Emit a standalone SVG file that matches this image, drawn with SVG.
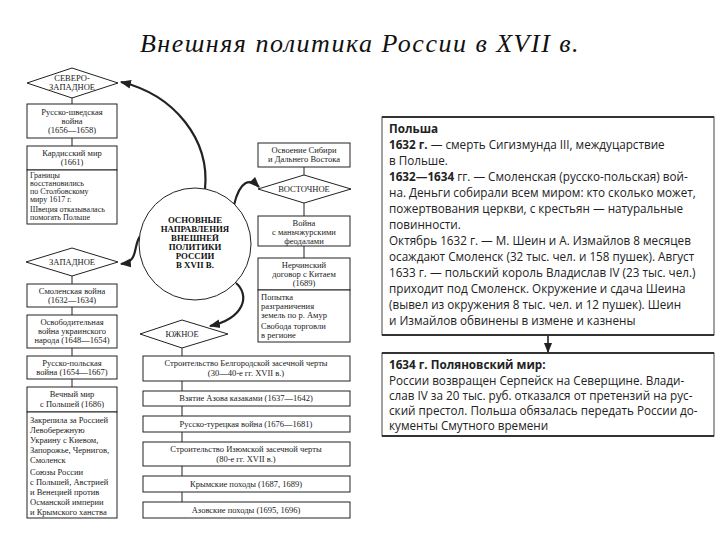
<svg xmlns="http://www.w3.org/2000/svg" width="720" height="540" viewBox="0 0 720 540">
<style>
.b{fill:#fff;stroke:#222;stroke-width:1}
.t{font-family:"Liberation Serif",serif;font-size:8.5px;fill:#222}
.s{font-size:8px}
.c{text-anchor:middle}
.ct{font-family:"Liberation Serif",serif;font-size:8.8px;font-weight:bold;fill:#111;text-anchor:middle}
.l{stroke:#222;stroke-width:1;fill:none}
.cur{stroke:#222;stroke-width:2.2;fill:none}
.r{font-family:"Open Sans",sans-serif;font-size:11.7px;fill:#222}
.rb{font-weight:bold}
.frame{fill:#fff;stroke:#444;stroke-width:1}
</style>
<defs>
<marker id="ah" viewBox="0 0 10 10" refX="9" refY="5" markerWidth="5" markerHeight="5" orient="auto"><path d="M0,1 L10,5 L0,9 z" fill="#222"/></marker>
<marker id="as" viewBox="0 0 10 10" refX="9" refY="5" markerWidth="7" markerHeight="7" orient="auto"><path d="M0,1 L10,5 L0,9 z" fill="#222"/></marker>
</defs>
<rect width="720" height="540" fill="#fff"/>
<text x="360" y="52" text-anchor="middle" font-family="Liberation Serif,serif" font-style="italic" font-size="26" letter-spacing="1.5" fill="#111">Внешняя политика России в XVII в.</text>

<g id="connectors">
<line class="l" x1="72" y1="97" x2="72" y2="104"/>
<line class="l" x1="72" y1="138" x2="72" y2="146"/>
<line class="l" x1="72" y1="276" x2="72" y2="284"/>
<line class="l" x1="72" y1="307" x2="72" y2="315"/>
<line class="l" x1="72" y1="348" x2="72" y2="356"/>
<line class="l" x1="72" y1="379" x2="72" y2="387"/>
<line class="l" x1="304" y1="167" x2="304" y2="175"/>
<line class="l" x1="304" y1="203" x2="304" y2="216"/>
<line class="l" x1="304" y1="246" x2="304" y2="258"/>
<line class="l" x1="182" y1="348" x2="182" y2="502"/>
<path class="cur" d="M205,189 C210,140 175,95 121,82" marker-end="url(#ah)"/>
<path class="cur" d="M141,235 C132,245 140,262 121,264" marker-end="url(#ah)"/>
<path class="cur" d="M234,205 C240,180 250,178 259,187" marker-end="url(#ah)"/>
<path class="cur" d="M236,283 C250,295 245,318 210,326" marker-end="url(#ah)"/>
<line x1="548" y1="336" x2="548" y2="352" stroke="#111" stroke-width="1.5" marker-end="url(#as)"/>
</g>

<g id="circle">
<circle cx="195" cy="244" r="56" class="b" stroke-width="1.5"/>
<text class="ct" x="195" y="223">ОСНОВНЫЕ</text>
<text class="ct" x="195" y="232">НАПРАВЛЕНИЯ</text>
<text class="ct" x="195" y="241">ВНЕШНЕЙ</text>
<text class="ct" x="195" y="250">ПОЛИТИКИ</text>
<text class="ct" x="195" y="259">РОССИИ</text>
<text class="ct" x="195" y="268">В XVII В.</text>
</g>

<g id="nw">
<polygon class="b" points="27,83 72,68 118,83 72,98"/>
<text class="t c" x="72" y="81">СЕВЕРО-</text>
<text class="t c" x="72" y="90">ЗАПАДНОЕ</text>
</g>
<g id="nw1">
<rect class="b" x="27" y="104" width="90" height="34"/>
<text class="t c" x="72" y="115">Русско-шведская</text>
<text class="t c" x="72" y="124">война</text>
<text class="t c" x="72" y="133">(1656—1658)</text>
</g>
<g id="nw2">
<rect class="b" x="27" y="146" width="90" height="24"/>
<text class="t c" x="72" y="156">Кардисский мир</text>
<text class="t c" x="72" y="165">(1661)</text>
<rect class="b" x="27" y="170" width="90" height="54"/>
<text class="t s" x="30" y="178">Границы</text>
<text class="t s" x="30" y="186">восстановились</text>
<text class="t s" x="30" y="194">по Столбовскому</text>
<text class="t s" x="30" y="202">миру 1617 г.</text>
<text class="t s" x="30" y="212">Швеция отказывалась</text>
<text class="t s" x="30" y="220">помогать Польше</text>
</g>

<g id="w">
<polygon class="b" points="26,262 72,248 118,262 72,276"/>
<text class="t c" x="72" y="265">ЗАПАДНОЕ</text>
</g>
<g id="w1">
<rect class="b" x="27" y="284" width="90" height="23"/>
<text class="t c" x="72" y="294">Смоленская война</text>
<text class="t c" x="72" y="303">(1632—1634)</text>
</g>
<g id="w2">
<rect class="b" x="27" y="315" width="90" height="33"/>
<text class="t c" x="72" y="325">Освободительная</text>
<text class="t c" x="72" y="334">война украинского</text>
<text class="t c" x="72" y="343">народа (1648—1654)</text>
</g>
<g id="w3">
<rect class="b" x="27" y="356" width="90" height="23"/>
<text class="t c" x="72" y="366">Русско-польская</text>
<text class="t c" x="72" y="375">война (1654—1667)</text>
</g>
<g id="w4">
<rect class="b" x="27" y="387" width="90" height="25"/>
<text class="t c" x="72" y="397">Вечный мир</text>
<text class="t c" x="72" y="407">с Польшей (1686)</text>
<rect class="b" x="27" y="412" width="90" height="106"/>
<text class="t" x="30" y="423">Закрепила за Россией</text>
<text class="t" x="30" y="433">Левобережную</text>
<text class="t" x="30" y="443">Украину с Киевом,</text>
<text class="t" x="30" y="453">Запорожье, Чернигов,</text>
<text class="t" x="30" y="463">Смоленск</text>
<text class="t" x="30" y="475">Союзы России</text>
<text class="t" x="30" y="485">с Польшей, Австрией</text>
<text class="t" x="30" y="495">и Венецией против</text>
<text class="t" x="30" y="505">Османской империи</text>
<text class="t" x="30" y="515">и Крымского ханства</text>
</g>

<g id="e0">
<rect class="b" x="258" y="143" width="92" height="24"/>
<text class="t c" x="304" y="153">Освоение Сибири</text>
<text class="t c" x="304" y="162">и Дальнего Востока</text>
</g>
<g id="e">
<polygon class="b" points="258,189 304,175 351,189 304,203"/>
<text class="t c" x="304" y="192">ВОСТОЧНОЕ</text>
</g>
<g id="e1">
<rect class="b" x="258" y="216" width="92" height="30"/>
<text class="t c" x="304" y="226">Война</text>
<text class="t c" x="304" y="235">с маньчжурскими</text>
<text class="t c" x="304" y="244">феодалами</text>
</g>
<g id="e2">
<rect class="b" x="258" y="258" width="92" height="32"/>
<text class="t c" x="304" y="268">Нерчинский</text>
<text class="t c" x="304" y="277">договор с Китаем</text>
<text class="t c" x="304" y="286">(1689)</text>
<rect class="b" x="258" y="290" width="92" height="52"/>
<text class="t" x="261" y="300">Попытка</text>
<text class="t" x="261" y="309">разграничения</text>
<text class="t" x="261" y="318">земель по р. Амур</text>
<text class="t" x="261" y="329">Свобода торговли</text>
<text class="t" x="261" y="338">в регионе</text>
</g>

<g id="s">
<polygon class="b" points="140,334 182,320 228,334 182,348"/>
<text class="t c" x="182" y="337">ЮЖНОЕ</text>
</g>
<g id="s1"><rect class="b" x="143" y="356" width="207" height="25"/>
<text class="t c" x="246" y="366">Строительство Белгородской засечной черты</text>
<text class="t c" x="246" y="376">(30—40-е гг. XVII в.)</text></g>
<g id="s2"><rect class="b" x="143" y="391" width="207" height="15"/>
<text class="t c" x="246" y="401">Взятие Азова казаками (1637—1642)</text></g>
<g id="s3"><rect class="b" x="143" y="416" width="207" height="16"/>
<text class="t c" x="246" y="427">Русско-турецкая война (1676—1681)</text></g>
<g id="s4"><rect class="b" x="143" y="442" width="207" height="24"/>
<text class="t c" x="246" y="452">Строительство Изюмской засечной черты</text>
<text class="t c" x="246" y="462">(80-е гг. XVII в.)</text></g>
<g id="s5"><rect class="b" x="143" y="476" width="207" height="16"/>
<text class="t c" x="246" y="487">Крымские походы (1687, 1689)</text></g>
<g id="s6"><rect class="b" x="143" y="502" width="207" height="16"/>
<text class="t c" x="246" y="513">Азовские походы (1695, 1696)</text></g>

<g id="poland">
<rect class="frame" x="382" y="117" width="332" height="218"/>
<line x1="382" y1="117" x2="714" y2="117" stroke="#333" stroke-width="2"/>
<line x1="382" y1="335" x2="714" y2="335" stroke="#333" stroke-width="2"/>
<text class="r" x="389" y="133"><tspan class="rb">Польша</tspan></text>
<text class="r" x="389" y="149"><tspan class="rb">1632 г.</tspan> — смерть Сигизмунда III, междуцарствие</text>
<text class="r" x="389" y="165">в Польше.</text>
<text class="r" x="389" y="181"><tspan class="rb">1632—1634</tspan> гг. — Смоленская (русско-польская) вой-</text>
<text class="r" x="389" y="197">на. Деньги собирали всем миром: кто сколько может,</text>
<text class="r" x="389" y="213">пожертвования церкви, с крестьян — натуральные</text>
<text class="r" x="389" y="229">повинности.</text>
<text class="r" x="389" y="245">Октябрь 1632 г. — М. Шеин и А. Измайлов 8 месяцев</text>
<text class="r" x="389" y="261">осаждают Смоленск (32 тыс. чел. и 158 пушек). Август</text>
<text class="r" x="389" y="277">1633 г. — польский король Владислав IV (23 тыс. чел.)</text>
<text class="r" x="389" y="293">приходит под Смоленск. Окружение и сдача Шеина</text>
<text class="r" x="389" y="309">(вывел из окружения 8 тыс. чел. и 12 пушек). Шеин</text>
<text class="r" x="389" y="325">и Измайлов обвинены в измене и казнены</text>
</g>
<g id="peace">
<rect class="frame" x="382" y="353" width="332" height="83"/>
<line x1="382" y1="353" x2="714" y2="353" stroke="#333" stroke-width="2"/>
<line x1="382" y1="436" x2="714" y2="436" stroke="#333" stroke-width="2"/>
<text class="r rb" x="389" y="369">1634 г. Поляновский мир:</text>
<text class="r" x="389" y="385">России возвращен Серпейск на Северщине. Влади-</text>
<text class="r" x="389" y="400">слав IV за 20 тыс. руб. отказался от претензий на рус-</text>
<text class="r" x="389" y="415">ский престол. Польша обязалась передать России до-</text>
<text class="r" x="389" y="430">кументы Смутного времени</text>
</g>
</svg>
